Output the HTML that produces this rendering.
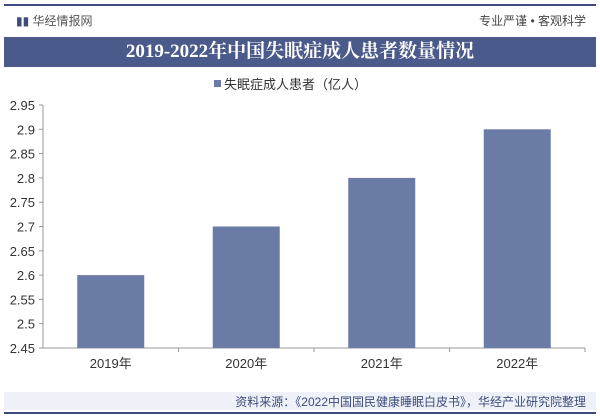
<!DOCTYPE html>
<html><head><meta charset="utf-8"><style>
body{margin:0;width:600px;height:416px;background:#fff;overflow:hidden;font-family:"Liberation Sans","Noto Sans CJK SC",sans-serif;position:relative}
.abs{position:absolute}
</style></head><body>
<div class="abs" style="left:4px;top:4px;width:592px;height:2px;background:#3d4c7c"></div>
<div class="abs" style="left:16px;top:12px;font-size:12px;color:#3d4c7c">▮▮ <span style="color:#555">华经情报网</span></div>
<div class="abs" style="right:14px;top:12px;font-size:12px;color:#444">专业严谨 • 客观科学</div>
<div class="abs" style="left:4px;top:37px;width:592px;height:30px;background:#4a5a8b;color:#fff;font:bold 19px 'Liberation Serif','Noto Serif CJK SC',serif;text-align:center;line-height:30px">2019-2022年中国失眠症成人患者数量情况</div>
<div class="abs" style="left:214px;top:74px;font-size:13px;color:#333"><span style="display:inline-block;width:7px;height:7px;background:#6a7ba5;margin-right:3px;vertical-align:2px"></span>失眠症成人患者（亿人）</div>
<svg class="abs" style="left:0;top:0" width="600" height="416" id="chart"></svg>
<div class="abs" style="left:4px;top:392px;width:592px;height:18px;background:#eef1f7"></div>
<div class="abs" style="right:14px;top:393px;font-size:12px;color:#3d4c7c">资料来源：《2022中国国民健康睡眠白皮书》，华经产业研究院整理</div>
<div class="abs" style="left:4px;top:412px;width:592px;height:2px;background:#3d4c7c"></div>
<script>
const categories=["2019年","2020年","2021年","2022年"];
const values=[2.6,2.7,2.8,2.9];
const ticks=[2.45,2.5,2.55,2.6,2.65,2.7,2.75,2.8,2.85,2.9,2.95];
const NS="http://www.w3.org/2000/svg",svg=document.getElementById('chart');
const x0=43,x1=585,yMin=2.45,yMax=2.95,yTop=105,yBot=348;
const y=v=>yBot-(v-yMin)/(yMax-yMin)*(yBot-yTop);
const bw=(x1-x0)/categories.length;
function mk(t,a){const e=document.createElementNS(NS,t);for(const k in a)e.setAttribute(k,a[k]);svg.appendChild(e);return e;}
ticks.forEach(t=>{
 const l=mk('line',{x1:x0-4,x2:x0,y1:y(t),y2:y(t),stroke:'#999'});
 
 
 const tx=mk('text',{x:x0-8,y:y(t)+5,'text-anchor':'end','font-size':13,fill:'#333'});
 tx.textContent=String(t);
 
 
});
const ya=mk('line',{x1:x0,x2:x0,y1:yTop,y2:yBot,stroke:'#999'});


const xa=mk('line',{x1:x0,x2:x1,y1:yBot,y2:yBot,stroke:'#999'});


categories.forEach((c,i)=>{
 const cx=x0+bw*(i+0.5),w=67;
 const r=mk('rect',{x:cx-w/2,y:y(values[i]),width:w,height:yBot-y(values[i]),fill:'#6a7ba5'});
 
 
 const tk=mk('line',{x1:x0+bw*(i+1),x2:x0+bw*(i+1),y1:yBot,y2:yBot+4,stroke:'#999'});
 
 
 const t=mk('text',{x:cx,y:yBot+20,'text-anchor':'middle','font-size':13,fill:'#333'});
 t.textContent=c;
 
 
});
</script>
</body></html>
